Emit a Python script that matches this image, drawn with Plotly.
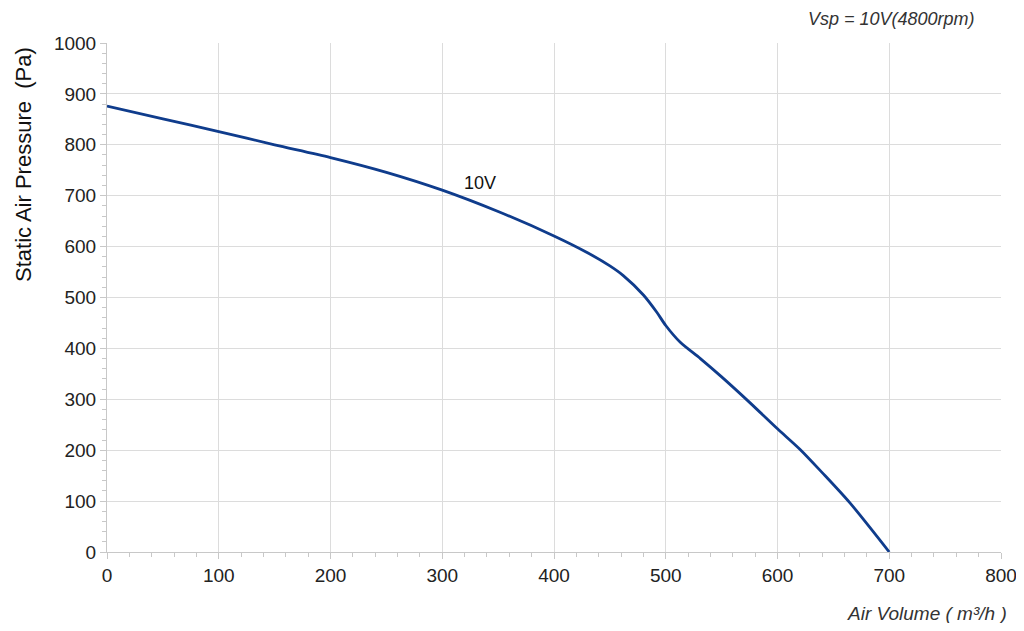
import plotly.graph_objects as go

air_volume = [0, 50, 100, 150, 200, 250, 300, 350, 400, 430, 450, 462, 480, 492, 500, 513, 531, 550, 575, 600, 620, 640, 665, 700]
pressure = [876, 851, 826, 800, 775, 746, 711, 669, 621, 588, 562, 543, 505, 471, 445, 412, 380, 344, 294, 242, 202, 156, 96, 0]

x_ticks = [0, 100, 200, 300, 400, 500, 600, 700, 800]
y_ticks = [0, 100, 200, 300, 400, 500, 600, 700, 800, 900, 1000]

curve_label = "10V"
title_text = "Vsp = 10V(4800rpm)"
x_title = "Air Volume ( m³/h )"
y_title = "Static Air Pressure  (Pa)"

# plot area in screen pixels (page body has 8px margin)
PL, PR, PT, PB = 107, 1001, 43, 552
PW, PH = PR - PL, PB - PT
FW, FH = 1016, 615

fig = go.Figure()
fig.add_trace(go.Scatter(
    x=air_volume, y=pressure, mode="lines",
    line=dict(color="#0f3c8c", width=2.8, shape="spline", smoothing=0.8),
    showlegend=False, hoverinfo="skip",
))

font_family = "Liberation Sans, Arial, sans-serif"

fig.update_layout(
    width=FW, height=FH,
    margin=dict(l=PL - 8, r=FW - (PL - 8) - PW, t=PT - 8, b=FH - (PT - 8) - PH, pad=0),
    paper_bgcolor="white", plot_bgcolor="white",
    font=dict(family=font_family, color="#222222", size=19),
    xaxis=dict(
        range=[0, 800], tickvals=x_ticks, showgrid=True, gridcolor="#dcdcdc", gridwidth=1,
        zeroline=False, showline=True, linecolor="#c8c8c8", linewidth=1,
        ticks="outside", ticklen=6, tickcolor="#c8c8c8", automargin=False,
        ticklabeloverflow="allow",
        minor=dict(ticks="outside", ticklen=4, dtick=20, tickcolor="#c8c8c8", showgrid=False),
        tickfont=dict(size=19, color="#222222"),
    ),
    yaxis=dict(
        range=[0, 1000], tickvals=y_ticks, showgrid=True, gridcolor="#dcdcdc", gridwidth=1,
        zeroline=False, showline=True, linecolor="#c8c8c8", linewidth=1,
        ticks="outside", ticklen=6, tickcolor="#c8c8c8", automargin=False,
        ticklabeloverflow="allow",
        minor=dict(ticks="outside", ticklen=4, dtick=20, tickcolor="#c8c8c8", showgrid=False),
        tickfont=dict(size=19, color="#222222"),
    ),
)

fig.add_annotation(
    x=334, y=725, xref="x", yref="y", text=curve_label, showarrow=False,
    font=dict(size=18, color="#111111"),
)
fig.add_annotation(
    x=(891 - PL) / PW, y=(PB - 19) / PH, xref="paper", yref="paper",
    text="<i>" + title_text + "</i>", showarrow=False,
    font=dict(size=18, color="#333333"), xanchor="center", yanchor="middle",
)
fig.add_annotation(
    x=(1009 - PL) / PW, y=(PB - 613) / PH, xref="paper", yref="paper",
    text="<i>" + x_title + "</i>", showarrow=False,
    font=dict(size=19, color="#333333"), xanchor="right", yanchor="middle",
)
fig.add_annotation(
    x=(23 - PL) / PW, y=(PB - 165) / PH, xref="paper", yref="paper",
    text=y_title, showarrow=False, textangle=-90,
    font=dict(size=22, color="#111111"), xanchor="center", yanchor="middle",
)

fig.write_html("out.html")
